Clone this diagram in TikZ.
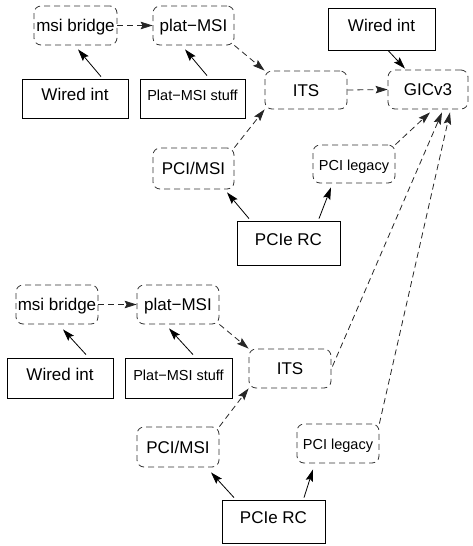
\documentclass[tikz,border=0pt]{standalone}
\usepackage{fontspec}
\setmainfont{Liberation Sans}
\usetikzlibrary{arrows.meta}

\tikzset{
  every node/.style={font=\fontsize{17}{19}\selectfont},
  hw/.style={draw=black, line width=0.8pt, rectangle, inner sep=0pt,
             text height=12pt, text depth=8pt},
  sw/.style={draw=black!80, line width=0.8pt, dash pattern=on 6pt off 4pt,
             rounded corners=7pt, rectangle, inner sep=0pt,
             text height=12.2pt, text depth=0pt},
  small/.style={font=\fontsize{14.5}{16}\selectfont},
  tip/.style={-{Stealth[length=12pt,width=7.5pt,inset=2pt]}},
  solidarr/.style={tip, line width=0.8pt, black},
  dasharr/.style={tip, line width=0.8pt, black!85, dash pattern=on 6pt off 4pt}
}

\begin{document}
\begin{tikzpicture}[x=1pt, y=-1pt]
\useasboundingbox (0,0) rectangle (473,546);

% ---------- upper block ----------
\node[sw, minimum width=83pt, minimum height=39pt] (mb1) at (75.5,25.5) {msi bridge};
\node[sw, minimum width=81pt, minimum height=39pt] (pm1) at (193.5,25.5) {plat−MSI};
\node[hw, minimum width=106pt, minimum height=39pt] (wi1) at (75,98.5) {Wired int};
\node[hw, small, minimum width=105pt, minimum height=39pt] (ps1) at (192.5,98.5) {Plat−MSI stuff};
\node[sw, minimum width=82pt, minimum height=38pt] (its1) at (306,90) {ITS};
\node[sw, minimum width=80pt, minimum height=39pt] (gic) at (428,89.5) {GICv3};
\node[hw, minimum width=107pt, minimum height=42pt] (wi3) at (381.5,29) {Wired int};
\node[sw, minimum width=81pt, minimum height=41pt] (msi1) at (193.5,168.5) {PCI/MSI};
\node[sw, small, minimum width=82pt, minimum height=38pt] (leg1) at (354,164) {PCI legacy};
\node[hw, minimum width=103pt, minimum height=44pt] (rc1) at (288.5,243) {PCIe RC};

% ---------- lower block ----------
\node[sw, minimum width=82pt, minimum height=39pt] (mb2) at (57,304.5) {msi bridge};
\node[sw, minimum width=82pt, minimum height=39pt] (pm2) at (178,304.5) {plat−MSI};
\node[hw, minimum width=106pt, minimum height=40pt] (wi2) at (60,378) {Wired int};
\node[hw, small, minimum width=107pt, minimum height=40pt] (ps2) at (178.5,378) {Plat−MSI stuff};
\node[sw, minimum width=82pt, minimum height=39pt] (its2) at (290,368.5) {ITS};
\node[sw, minimum width=82pt, minimum height=40pt] (msi2) at (178,447) {PCI/MSI};
\node[sw, small, minimum width=82pt, minimum height=39pt] (leg2) at (338,443.5) {PCI legacy};
\node[hw, minimum width=103pt, minimum height=43pt] (rc2) at (273.5,521.5) {PCIe RC};

% ---------- solid arrows (hardware signalling) ----------
\draw[solidarr] ([xshift=26pt,yshift=2pt]wi1.north) -- ([xshift=2.5pt,yshift=-4pt]mb1.south);
\draw[solidarr] ([xshift=14.5pt,yshift=3pt]ps1.north) -- ([xshift=-8.5pt,yshift=-4pt]pm1.south);
\draw[solidarr] ([xshift=6.5pt]wi3.south) -- ([xshift=-23pt,yshift=1pt]gic.north);
\draw[solidarr] ([xshift=-39.5pt,yshift=2pt]rc1.north) -- ([xshift=33.5pt,yshift=-3pt]msi1.south);
\draw[solidarr] ([xshift=30.5pt,yshift=2pt]rc1.north) -- ([xshift=-23pt,yshift=-4pt]leg1.south);

\draw[solidarr] ([xshift=26pt,yshift=3pt]wi2.north) -- ([xshift=6pt,yshift=-5pt]mb2.south);
\draw[solidarr] ([xshift=14.5pt,yshift=3pt]ps2.north) -- ([xshift=-9pt,yshift=-4pt]pm2.south);
\draw[solidarr] ([xshift=-39.5pt,yshift=2pt]rc2.north) -- ([xshift=33pt,yshift=-5pt]msi2.south);
\draw[solidarr] ([xshift=30.5pt,yshift=2pt]rc2.north) -- ([xshift=-25pt,yshift=-6pt]leg2.south);

% ---------- dashed arrows (message flow) ----------
\draw[dasharr] (mb1.east) -- (pm1.west);
\draw[dasharr] (pm1.south east) -- (its1.north west);
\draw[dasharr] (its1.east) -- (gic.west);
\draw[dasharr] (msi1.north east) -- (its1.south west);
\draw[dasharr] (leg1.north east) -- ([xshift=2pt,yshift=-3pt]gic.south);

\draw[dasharr] (mb2.east) -- (pm2.west);
\draw[dasharr] (pm2.south east) -- (its2.north west);
\draw[dasharr] (msi2.north east) -- (its2.south west);
\draw[dasharr] ([xshift=1pt,yshift=2pt]its2.east) -- ([xshift=14pt,yshift=-3pt]gic.south);
\draw[dasharr] (leg2.north east) -- ([xshift=22pt,yshift=-3pt]gic.south);
\end{tikzpicture}
\end{document}
